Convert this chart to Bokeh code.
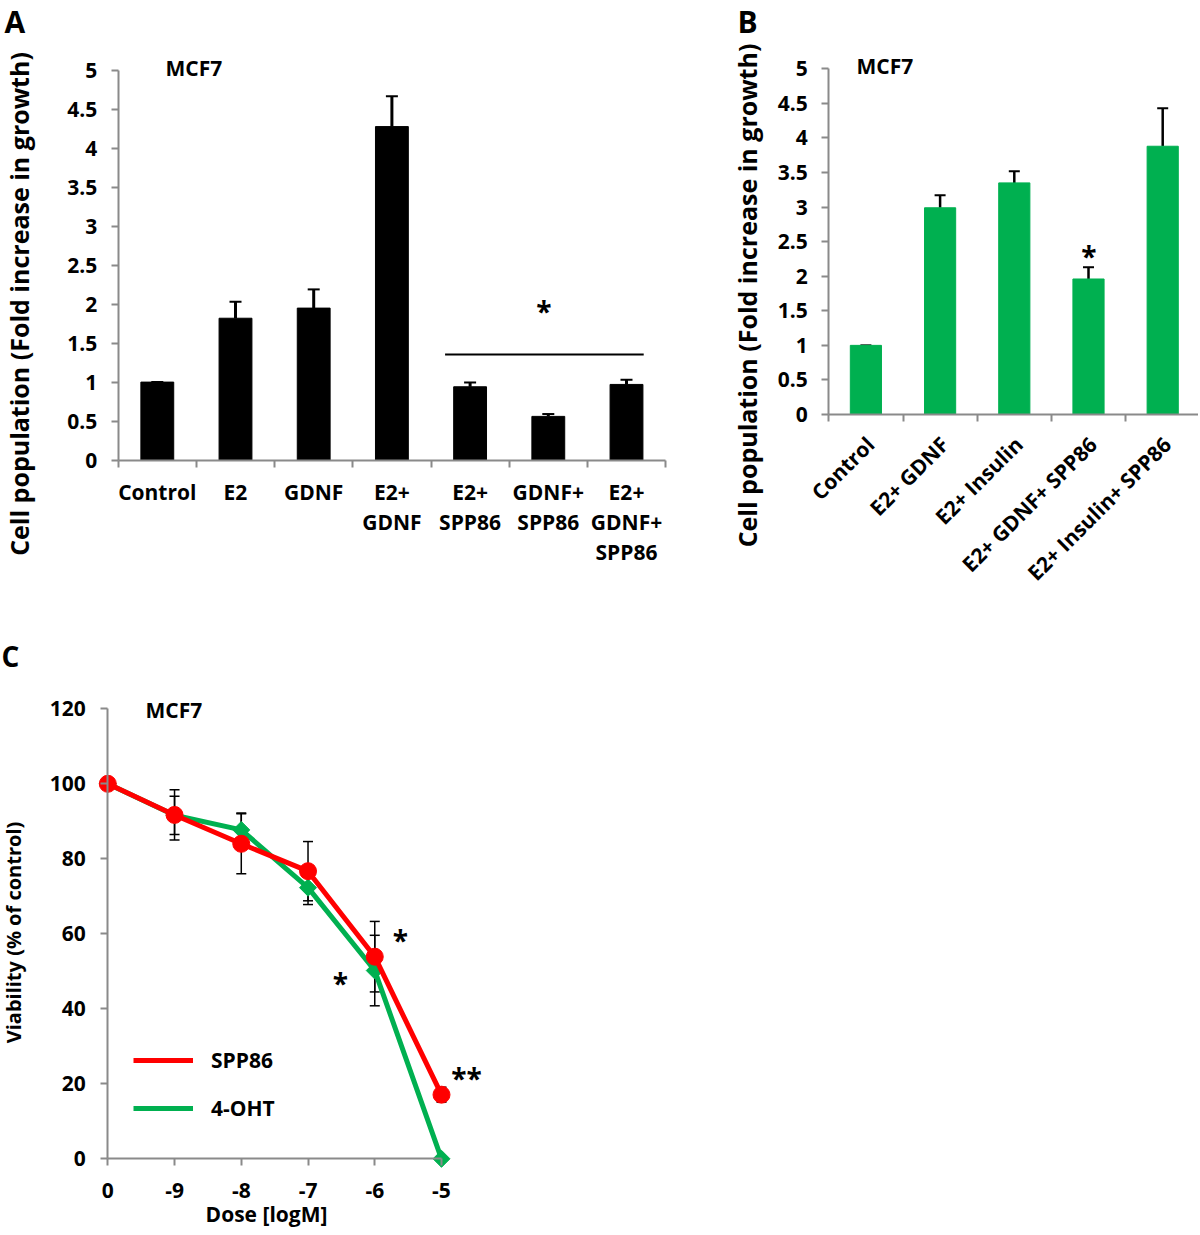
import math
from bokeh.plotting import figure
from bokeh.models import (ColumnDataSource, FixedTicker, Whisker, TeeHead, Label,
                          Legend, LegendItem, CustomJSTickFormatter)
from bokeh.layouts import column, row
from bokeh.embed import file_html
from bokeh.resources import INLINE

# ---------------- data ----------------
a_categories = ["Control", "E2", "GDNF", "E2+\nGDNF", "E2+\nSPP86", "GDNF+\nSPP86", "E2+\nGDNF+\nSPP86"]
a_values = [1.00, 1.82, 1.95, 4.28, 0.94, 0.56, 0.97]
a_errors = [0.00, 0.21, 0.24, 0.39, 0.055, 0.03, 0.06]
a_sig_span = [3.68, 6.22]
a_sig_level = 1.355

b_categories = ["Control", "E2+ GDNF", "E2+ Insulin", "E2+ GDNF+ SPP86", "E2+ Insulin+ SPP86"]
b_values = [1.00, 2.99, 3.35, 1.96, 3.88]
b_errors = [0.00, 0.18, 0.17, 0.17, 0.55]

c_dose_labels = ["0", "-9", "-8", "-7", "-6", "-5"]
c_spp86 = [100, 91.7, 84.0, 76.7, 53.9, 17.1]
c_spp86_err = [0, 6.7, 8.0, 7.9, 9.4, 2.0]
c_oht = [100, 91.6, 87.7, 72.3, 50.2, 0]
c_oht_err = [0, 5.1, 4.5, 4.5, 9.4, 0]

AB_y_ticks = [0, 0.5, 1, 1.5, 2, 2.5, 3, 3.5, 4, 4.5, 5]
C_y_ticks = [0, 20, 40, 60, 80, 100, 120]

FONT = "Open Sans"
GRAY = "#8a8a8a"
GREEN = "#00B050"
RED = "#FF0000"
TICK_FONT = "21px"


# pixel -> data helpers (layout only)
def ax(px): return -0.5 + (px - 117.7) / 78.2
def ay(py): return (459.5 - py) / 77.9
def bx(px): return -0.5 + (px - 828.3) / 74.2
def by(py): return (414.0 - py) / 69.14
def cx(px): return (px - 107.3) / 66.74
def cy(py): return (1158.3 - py) / 3.75


def make_fig(w, h, xr, yr):
    p = figure(width=w, height=h, x_range=xr, y_range=yr, output_backend="svg",
               toolbar_location=None, min_border=0)
    p.title.visible = False
    p.outline_line_color = None
    p.xgrid.visible = False
    p.ygrid.visible = False
    p.background_fill_color = "white"
    p.border_fill_color = "white"
    for a in (p.xaxis[0], p.yaxis[0]):
        a.axis_line_color = GRAY
        a.axis_line_width = 2
        a.major_tick_line_color = GRAY
        a.major_tick_line_width = 2
        a.major_tick_in = 0
        a.major_tick_out = 7
        a.minor_tick_line_color = None
        a.major_label_text_font = FONT
        a.major_label_text_font_style = "bold"
        a.major_label_text_font_size = TICK_FONT
        a.major_label_text_color = "black"
    return p


def add_text(p, x, y, text, size, angle=0.0, align="left"):
    p.add_layout(Label(x=x, y=y, text=text, angle=angle, text_font=FONT,
                       text_font_style="bold", text_font_size=size,
                       text_color="black", text_align=align, text_baseline="middle"))


def cat_x_axis(p, n, label_list, shift, standoff):
    xa = p.xaxis[0]
    xa.fixed_location = 0
    xa.bounds = (-0.5, n - 0.5)
    xa.ticker = FixedTicker(ticks=[i + shift for i in range(n)],
                            minor_ticks=[i - 0.5 for i in range(n + 1)])
    xa.formatter = CustomJSTickFormatter(args=dict(labels=label_list),
                                         code="return labels[Math.round(tick - %f)]" % shift)
    xa.major_tick_line_color = None
    xa.minor_tick_line_color = GRAY
    xa.minor_tick_line_width = 2
    xa.minor_tick_in = 0
    xa.minor_tick_out = 7
    xa.major_label_standoff = standoff
    return xa


def val_y_axis(p, loc, bounds, ticks, standoff):
    ya = p.yaxis[0]
    ya.fixed_location = loc
    ya.bounds = bounds
    ya.ticker = FixedTicker(ticks=ticks, minor_ticks=[])
    ya.formatter = CustomJSTickFormatter(code="return tick.toString()")
    ya.major_label_standoff = standoff
    return ya


# ---------------- panel A ----------------
a_x = list(range(len(a_categories)))
pA = make_fig(712, 625, (ax(0), ax(712)), (ay(625), ay(0)))
pA.vbar(x=a_x, top=a_values, width=0.42, color="black")
srcA = ColumnDataSource(dict(x=a_x, top=a_values, upper=[v + e for v, e in zip(a_values, a_errors)]))
pA.add_layout(Whisker(base="x", lower="top", upper="upper", source=srcA, line_width=3, line_color="black",
                      upper_head=TeeHead(size=12, line_width=2, line_color="black"), lower_head=None))
pA.line(x=a_sig_span, y=[a_sig_level, a_sig_level], line_width=2, color="black")
xa = cat_x_axis(pA, len(a_categories), a_categories, 0.0, 11)
xa.major_label_text_line_height = 1.07
val_y_axis(pA, -0.5, (0, 5), AB_y_ticks, 14)

add_text(pA, ax(4), ay(21), "A", "30px")
add_text(pA, ax(165), ay(67), "MCF7", "21px")
add_text(pA, ax(543.5), ay(310.5), "*", "28px", align="center")
add_text(pA, ax(18), ay(303.5), "Cell population (Fold increase in growth)", "25px",
         angle=math.pi / 2, align="center")

# ---------------- panel B ----------------
b_x = list(range(len(b_categories)))
pB = make_fig(486, 625, (bx(712), bx(1198)), (by(625), by(0)))
pB.vbar(x=b_x, top=b_values, width=0.42, color=GREEN)
srcB = ColumnDataSource(dict(x=b_x, top=b_values, upper=[v + e for v, e in zip(b_values, b_errors)]))
pB.add_layout(Whisker(base="x", lower="top", upper="upper", source=srcB, line_width=2.5, line_color="black",
                      upper_head=TeeHead(size=11, line_width=2, line_color="black"), lower_head=None))
xb = cat_x_axis(pB, len(b_categories), b_categories, 0.06, 19)
xb.major_label_orientation = math.pi / 4
val_y_axis(pB, -0.5, (0, 5), AB_y_ticks, 14)

add_text(pB, bx(737), by(21), "B", "30px")
add_text(pB, bx(856), by(65), "MCF7", "21px")
add_text(pB, bx(1088.3), by(255.7), "*", "28px", align="center")
add_text(pB, bx(746), by(295), "Cell population (Fold increase in growth)", "25px",
         angle=math.pi / 2, align="center")

# ---------------- panel C ----------------
c_x = list(range(len(c_dose_labels)))
pC = make_fig(540, 605, (cx(0), cx(540)), (cy(1230), cy(625)))


def err_source(vals, errs):
    keep = [i for i, e in enumerate(errs) if e > 0]
    return ColumnDataSource(dict(x=[c_x[i] for i in keep],
                                 lo=[vals[i] - errs[i] for i in keep],
                                 hi=[vals[i] + errs[i] for i in keep]))


for vals, errs in ((c_oht, c_oht_err), (c_spp86, c_spp86_err)):
    pC.add_layout(Whisker(base="x", lower="lo", upper="hi", source=err_source(vals, errs),
                          line_width=1.5, line_color="black", level="underlay",
                          upper_head=TeeHead(size=10, line_width=1.5, line_color="black"),
                          lower_head=TeeHead(size=10, line_width=1.5, line_color="black")))

g_line = pC.line(c_x, c_oht, color=GREEN, line_width=5)
pC.scatter(c_x, c_oht, marker="square", size=12, angle=math.pi / 4, color=GREEN)
r_line = pC.line(c_x, c_spp86, color=RED, line_width=5)
pC.scatter(c_x, c_spp86, marker="circle", size=17, color=RED)

xc = pC.xaxis[0]
xc.fixed_location = 0
xc.bounds = (0, 5)
xc.ticker = FixedTicker(ticks=c_x, minor_ticks=[])
xc.formatter = CustomJSTickFormatter(args=dict(labels=c_dose_labels), code="return labels[Math.round(tick)]")
xc.major_label_standoff = 17
val_y_axis(pC, 0, (0, 120), C_y_ticks, 15)

legend = Legend(items=[LegendItem(label="SPP86", renderers=[r_line]),
                       LegendItem(label="4-OHT", renderers=[g_line])],
                location=(133, 108), orientation="vertical", glyph_width=60, glyph_height=28,
                label_height=28, label_standoff=18, spacing=20, padding=0, margin=0,
                background_fill_alpha=0, border_line_color=None,
                label_text_font=FONT, label_text_font_style="bold", label_text_font_size="21px",
                label_text_color="black")
pC.add_layout(legend)

add_text(pC, cx(1), cy(655), "C", "28px")
add_text(pC, cx(145), cy(709.5), "MCF7", "21px")
add_text(pC, cx(400), cy(939), "*", "28px", align="center")
add_text(pC, cx(340), cy(982), "*", "28px", align="center")
add_text(pC, cx(466), cy(1077), "**", "28px", align="center")
add_text(pC, cx(13), cy(932), "Viability (% of control)", "20px", angle=math.pi / 2, align="center")
add_text(pC, cx(266), cy(1213), "Dose [logM]", "21px", align="center")

layout = column(row(pA, pB), pC)
open("out.html", "w").write(file_html(layout, INLINE))
